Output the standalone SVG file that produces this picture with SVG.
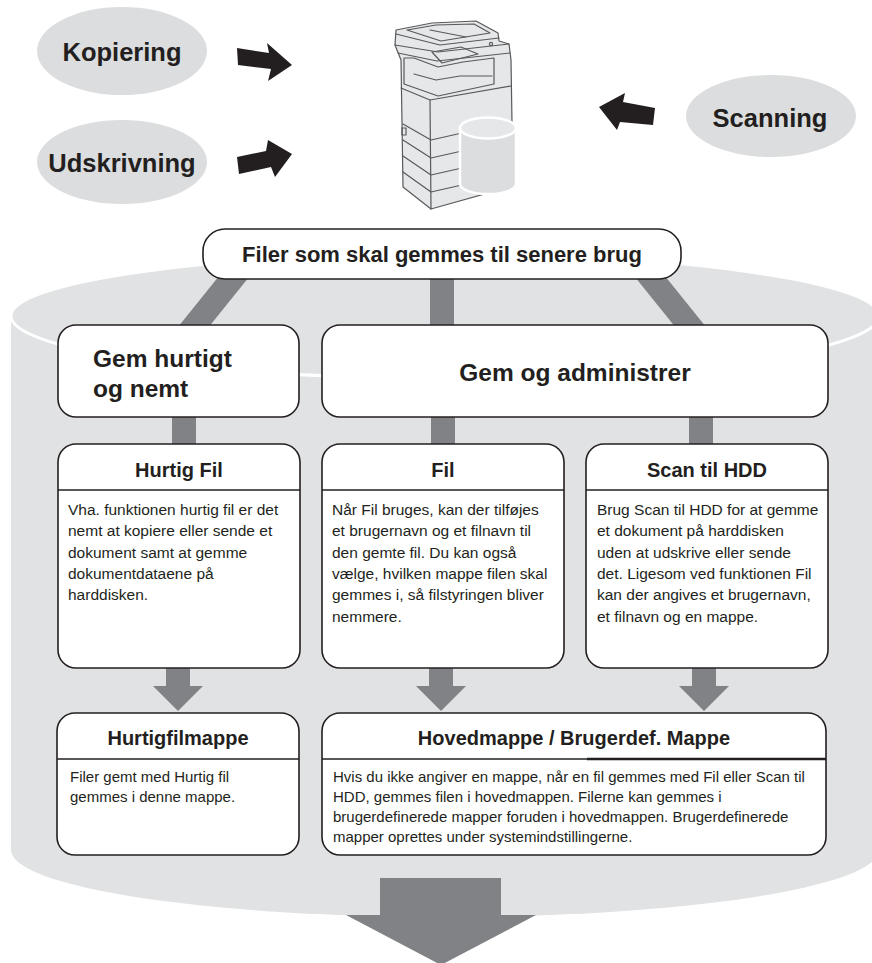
<svg xmlns="http://www.w3.org/2000/svg" width="872" height="963" viewBox="0 0 872 963">
  <defs>
    <style>
      .bg{fill:#e1e2e3}
      .rim{fill:#e1e2e3;stroke:#fff;stroke-width:3}
      .bar{stroke:#808285;stroke-width:24;fill:none}
      .barfill{fill:#808285}
      .box{fill:#fff;stroke:#231f20;stroke-width:1.6}
      .rule{stroke:#231f20;stroke-width:1.4}
      .oval{fill:#dcddde}
      .dark{fill:#231f20}
      .hd{font-family:"Liberation Sans",Arial,Helvetica,sans-serif;font-weight:bold;fill:#231f20}
      .tx{font-family:"Liberation Sans",Arial,Helvetica,sans-serif;fill:#231f20}
      .pr{fill:#e6e7e8;stroke:#58595b;stroke-width:1.2;stroke-linejoin:round;stroke-linecap:round}
      .pl{fill:none;stroke:#58595b;stroke-width:1.2;stroke-linejoin:round;stroke-linecap:round}
    </style>
    <!-- short down arrow between the detail boxes and the folder boxes -->
    <path id="dnArrow" d="M-12,0 H12 V19 H25 L0,44 L-25,19 H-12 Z"/>
  </defs>

  <!-- storage drum behind the flow -->
  <g id="drum">
    <path class="bg" d="M11,316 H879 V850 A434,67 0 0 1 11,850 Z"/>
    <ellipse class="rim" cx="445" cy="316" rx="434" ry="62"/>
  </g>

  <!-- input sources -->
  <g id="kopiering">
    <ellipse class="oval" cx="122" cy="51" rx="85" ry="44"/>
    <text class="hd" x="122" y="61" font-size="25.5" text-anchor="middle">Kopiering</text>
  </g>
  <g id="udskrivning">
    <ellipse class="oval" cx="122" cy="162" rx="85" ry="42"/>
    <text class="hd" x="122" y="172" font-size="25.5" text-anchor="middle">Udskrivning</text>
  </g>
  <g id="scanning">
    <ellipse class="oval" cx="771" cy="116" rx="85" ry="41"/>
    <text class="hd" x="770" y="127" font-size="25.5" text-anchor="middle">Scanning</text>
  </g>

  <!-- multifunction printer with its hard disk -->
  <g id="printer">
    <path class="pr" d="M396,30 L432,23 L476,21 L498,33 L499,41 L509,44 L511,60 L513,186 L431,209 L403,187 L401,60 L395,45 Z"/>
    <!-- document feeder -->
    <path class="pl" d="M396,34 L440,45 L499,38"/>
    <path class="pl" d="M407,30 L436,25 L474,24 L490,33 L441,41 Z"/>
    <path class="pl" d="M430,30 L466,37"/>
    <!-- scanner body and panel -->
    <path class="pl" d="M395,45 L438,52 L509,44"/>
    <path class="pl" d="M398,53 L437,61 L510,53"/>
    <path class="pl" d="M432,52 L461,47 L478,54 L442,63 Z"/>
    <circle class="pl" cx="491" cy="44" r="1.6"/>
    <!-- output bay -->
    <path class="pl" d="M404,58 L414,58 L438,67 L463,62 L494,58 L494,84 L438,96 L404,84 Z"/>
    <path class="pl" d="M414,74 L436,80 L460,76 L492,76"/>
    <!-- lower cabinet and paper drawers -->
    <path class="pl" d="M401,88 L430,100 L511,86"/>
    <path class="pl" d="M430,100 L431,209"/>
    <path class="pl" d="M403,124 L431,140 L462,133"/>
    <path class="pl" d="M403,140 L431,158 L462,151"/>
    <path class="pl" d="M403,156 L431,175 L462,168"/>
    <path class="pl" d="M403,172 L431,192 L462,185"/>
    <rect class="pl" x="402" y="128" width="4" height="7"/>
    <!-- hard disk -->
    <path d="M460,128 V184 A28,10 0 0 0 516,184 V128 Z" fill="#dcddde" stroke="#fff" stroke-width="2.5"/>
    <ellipse cx="488" cy="128" rx="28" ry="10.5" fill="#e6e7e8" stroke="#fff" stroke-width="2.5"/>
  </g>

  <!-- connectors -->
  <g id="connectors">
    <polygon class="dark" points="237,48 269,53 267,43 292,65 268,81 271,69 238,65"/>
    <polygon class="dark" points="237,157 266,151 268,140 292,154 275,177 271,167 239,174"/>
    <polygon class="dark" points="599,107 625,93 623,102 655,108 653,125 620,122 617,130"/>
    <line class="bar" x1="243.3" y1="265" x2="182.9" y2="340"/>
    <line class="bar" x1="442" y1="265" x2="442" y2="340"/>
    <line class="bar" x1="640.7" y1="265" x2="701.1" y2="340"/>
    <line class="bar" x1="184" y1="410" x2="184" y2="450"/>
    <line class="bar" x1="443" y1="410" x2="443" y2="450"/>
    <line class="bar" x1="701" y1="410" x2="701" y2="450"/>
    <use href="#dnArrow" class="barfill" x="178" y="667"/>
    <use href="#dnArrow" class="barfill" x="441" y="667"/>
    <use href="#dnArrow" class="barfill" x="704" y="667"/>
    <polygon class="barfill" points="380,878 501,878 501,915 536,915 441,965 346,915 380,915"/>
  </g>

  <!-- top banner -->
  <g id="filer">
    <rect class="box" x="203" y="229" width="478" height="50" rx="22"/>
    <text class="hd" x="442" y="262" font-size="22" text-anchor="middle">Filer som skal gemmes til senere brug</text>
  </g>

  <!-- categories -->
  <g id="gem-hurtigt">
    <rect class="box" x="58" y="325" width="241" height="92" rx="18"/>
    <text class="hd" x="93" y="367" font-size="24.5">Gem hurtigt</text>
    <text class="hd" x="93" y="397" font-size="24.5">og nemt</text>
  </g>
  <g id="gem-administrer">
    <rect class="box" x="322" y="325" width="506" height="92" rx="18"/>
    <text class="hd" x="575" y="381" font-size="24.5" text-anchor="middle">Gem og administrer</text>
  </g>

  <!-- functions -->
  <g id="hurtig-fil">
    <rect class="box" x="58" y="444" width="242" height="224" rx="18"/>
    <line class="rule" x1="58" y1="490" x2="300" y2="490"/>
    <text class="hd" x="179" y="477" font-size="20" text-anchor="middle">Hurtig Fil</text>
    <text class="tx" font-size="15.5">
      <tspan x="68" y="515">Vha. funktionen hurtig fil er det</tspan>
      <tspan x="68" y="536.3">nemt at kopiere eller sende et</tspan>
      <tspan x="68" y="557.6">dokument samt at gemme</tspan>
      <tspan x="68" y="578.9">dokumentdataene på</tspan>
      <tspan x="68" y="600.2">harddisken.</tspan>
    </text>
  </g>
  <g id="fil">
    <rect class="box" x="322" y="444" width="242" height="224" rx="18"/>
    <line class="rule" x1="322" y1="490" x2="564" y2="490"/>
    <text class="hd" x="443" y="477" font-size="20" text-anchor="middle">Fil</text>
    <text class="tx" font-size="15.5">
      <tspan x="332" y="515">Når Fil bruges, kan der tilføjes</tspan>
      <tspan x="332" y="536.3">et brugernavn og et filnavn til</tspan>
      <tspan x="332" y="557.6">den gemte fil. Du kan også</tspan>
      <tspan x="332" y="578.9">vælge, hvilken mappe filen skal</tspan>
      <tspan x="332" y="600.2">gemmes i, så filstyringen bliver</tspan>
      <tspan x="332" y="621.5">nemmere.</tspan>
    </text>
  </g>
  <g id="scan-til-hdd">
    <rect class="box" x="586" y="444" width="242" height="224" rx="18"/>
    <line class="rule" x1="586" y1="490" x2="828" y2="490"/>
    <text class="hd" x="707" y="477" font-size="20" text-anchor="middle">Scan til HDD</text>
    <text class="tx" font-size="15.5">
      <tspan x="597" y="515">Brug Scan til HDD for at gemme</tspan>
      <tspan x="597" y="536.3">et dokument på harddisken</tspan>
      <tspan x="597" y="557.6">uden at udskrive eller sende</tspan>
      <tspan x="597" y="578.9">det. Ligesom ved funktionen Fil</tspan>
      <tspan x="597" y="600.2">kan der angives et brugernavn,</tspan>
      <tspan x="597" y="621.5">et filnavn og en mappe.</tspan>
    </text>
  </g>

  <!-- folders -->
  <g id="hurtigfilmappe">
    <rect class="box" x="57" y="713" width="242" height="142" rx="18"/>
    <line class="rule" x1="57" y1="759" x2="299" y2="759"/>
    <text class="hd" x="178" y="745" font-size="20" text-anchor="middle">Hurtigfilmappe</text>
    <text class="tx" font-size="15">
      <tspan x="70" y="782">Filer gemt med Hurtig fil</tspan>
      <tspan x="70" y="802">gemmes i denne mappe.</tspan>
    </text>
  </g>
  <g id="hovedmappe">
    <rect class="box" x="322" y="713" width="504" height="142" rx="18"/>
    <line class="rule" x1="322" y1="759" x2="587" y2="759"/>
    <line x1="587" y1="759" x2="826" y2="759" stroke="#231f20" stroke-width="2.4"/>
    <text class="hd" x="574" y="745" font-size="20" text-anchor="middle">Hovedmappe / Brugerdef. Mappe</text>
    <text class="tx" font-size="15">
      <tspan x="333" y="782">Hvis du ikke angiver en mappe, når en fil gemmes med Fil eller Scan til</tspan>
      <tspan x="333" y="802">HDD, gemmes filen i hovedmappen. Filerne kan gemmes i</tspan>
      <tspan x="333" y="822">brugerdefinerede mapper foruden i hovedmappen. Brugerdefinerede</tspan>
      <tspan x="333" y="842">mapper oprettes under systemindstillingerne.</tspan>
    </text>
  </g>
</svg>
